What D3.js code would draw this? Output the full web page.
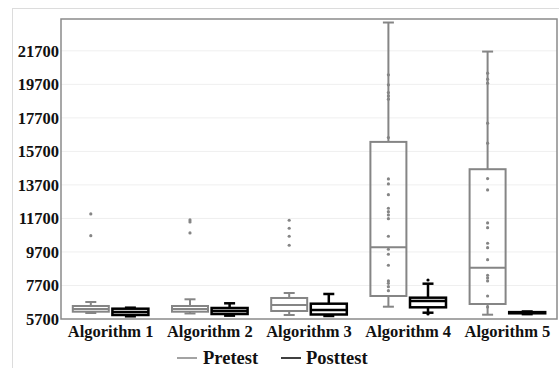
<!DOCTYPE html>
<html>
<head>
<meta charset="utf-8">
<script src="https://cdn.jsdelivr.net/npm/d3@7"></script>
<style>
  body { margin: 0; background: #fff; }
  svg { display: block; }
  text { font-family: "Liberation Serif", "Times New Roman", serif; font-weight: bold; fill: #111; }
</style>
</head>
<body>
<svg id="chart" width="559" height="368"></svg>
<script>
// categorie e gruppi
const categories = ["Algorithm 1", "Algorithm 2", "Algorithm 3", "Algorithm 4", "Algorithm 5"];
const groups = ["Pretest", "Posttest"];
const yTicks = [5700, 7700, 9700, 11700, 13700, 15700, 17700, 19700, 21700];

// statistiche Pretest: baffo basso, Q1, mediana, Q3, baffo alto
const preLow    = [6058, 6030, 5939, 6434, 5957];
const preQ1     = [6136, 6136, 6178, 7073, 6595];
const preMedian = [6297, 6300, 6536, 9980, 8763];
const preQ3     = [6476, 6476, 6954, 16267, 14637];
const preHigh   = [6715, 6876, 7252, 23390, 21657];

// statistiche Posttest
const postLow    = [5861, 5900, 5880, 6076, 5990];
const postQ1     = [5939, 5998, 5969, 6398, 6040];
const postMedian = [6118, 6178, 6237, 6775, 6080];
const postQ3     = [6315, 6357, 6613, 6972, 6110];
const postHigh   = [6375, 6637, 7193, 7807, 6150];

// punti singoli
const preDots = [
    [11969, 10673],
    [11610, 11491, 10834],
    [11592, 11115, 10637, 10100],
    [20267, 19670, 19210, 19013, 18816, 16524, 14058, 13760, 13121, 12309, 12106, 11909,
     11688, 10637, 9861, 9563, 8906, 7969, 7831, 7628, 7390],
    [20368, 20010, 19771, 17383, 16189, 14076, 13401, 11431, 11151, 10219, 9957, 9240,
     8309, 8148, 7969, 7073, 6416]
];
const postDots = [[], [], [], [8028, 5999], []];

const colors = { Pretest: "#858585", Posttest: "#000" };

const svg = d3.select("#chart");
const margin = { left: 61, right: 557, top: 19, bottom: 319 };

// cornice esterna chiara
svg.append("rect")
    .attr("x", 12.5).attr("y", 8.5)
    .attr("width", 600).attr("height", 400)
    .attr("fill", "none").attr("stroke", "#dcdcdc").attr("stroke-width", 1);

/* scale */
const x = d3.scaleBand().domain(categories).range([margin.left, margin.right]);
const xSub = d3.scaleBand().domain(groups).range([10, x.bandwidth() - 10]);
const y = d3.scaleLinear().domain([5700, 23600]).range([margin.bottom, margin.top]);

// griglia
svg.append("g")
    .selectAll("line")
    .data(yTicks.slice(1))
    .enter()
    .append("line")
    .attr("x1", margin.left).attr("x2", margin.right)
    .attr("y1", d => y(d)).attr("y2", d => y(d))
    .attr("stroke", "#efefef").attr("stroke-width", 1);

// asse Y
const yAxis = svg.append("g")
    .attr("transform", `translate(${margin.left - 2},0)`)
    .call(d3.axisLeft(y).tickValues(yTicks).tickSize(0).tickPadding(0).tickFormat(d3.format("d")));
yAxis.select(".domain").remove();
yAxis.selectAll("text").style("font-size", "16.5px").style("font-family", "Liberation Serif").style("font-weight", "bold").attr("fill", "#111");

// etichette categorie
svg.append("g")
    .selectAll("text")
    .data(categories)
    .enter()
    .append("text")
    .attr("x", d => x(d) + x.bandwidth() / 2)
    .attr("y", 337)
    .attr("text-anchor", "middle")
    .style("font-size", "16.5px")
    .text(d => d);

// costruisce i dati dei box
const boxes = [];
categories.forEach((c, i) => {
    boxes.push({ cat: c, grp: "Pretest", low: preLow[i], q1: preQ1[i], med: preMedian[i], q3: preQ3[i], high: preHigh[i], dots: preDots[i] });
    boxes.push({ cat: c, grp: "Posttest", low: postLow[i], q1: postQ1[i], med: postMedian[i], q3: postQ3[i], high: postHigh[i], dots: postDots[i] });
});

const boxW = 36, capW = 11;

const g = svg.append("g")
    .selectAll(".box")
    .data(boxes)
    .enter()
    .append("g")
    .attr("class", "box")
    .each(function (d) {
        const b = d3.select(this);
        const cx = x(d.cat) + xSub(d.grp) + xSub.bandwidth() / 2;
        const col = colors[d.grp];
        const sw = d.grp === "Pretest" ? 2 : 2.5;

        /* baffi */
        b.append("line")
            .attr("x1", cx).attr("x2", cx)
            .attr("y1", y(d.high)).attr("y2", y(d.q3))
            .attr("stroke", col).attr("stroke-width", sw);
        b.append("line")
            .attr("x1", cx).attr("x2", cx)
            .attr("y1", y(d.q1)).attr("y2", y(d.low))
            .attr("stroke", col).attr("stroke-width", sw);
        [d.high, d.low].forEach(v => {
            b.append("line")
                .attr("x1", cx - capW / 2).attr("x2", cx + capW / 2)
                .attr("y1", y(v)).attr("y2", y(v))
                .attr("stroke", col).attr("stroke-width", sw);
        });

        /* box */
        b.append("rect")
            .attr("x", cx - boxW / 2)
            .attr("y", y(d.q3))
            .attr("width", boxW)
            .attr("height", Math.max(0.5, y(d.q1) - y(d.q3)))
            .attr("fill", "none")
            .attr("stroke", col).attr("stroke-width", sw);

        /* mediana */
        b.append("line")
            .attr("x1", cx - boxW / 2).attr("x2", cx + boxW / 2)
            .attr("y1", y(d.med)).attr("y2", y(d.med))
            .attr("stroke", col).attr("stroke-width", sw);

        /* punti */
        b.selectAll("circle")
            .data(d.dots)
            .enter()
            .append("circle")
            .attr("cx", cx)
            .attr("cy", v => y(v))
            .attr("r", 1.6)
            .attr("fill", col);
    });

// bordo area grafico
svg.append("rect")
    .attr("x", margin.left).attr("y", margin.top)
    .attr("width", margin.right - margin.left)
    .attr("height", margin.bottom - margin.top)
    .attr("fill", "none").attr("stroke", "#8a8a8a").attr("stroke-width", 1.5);

// legenda
const legend = svg.append("g");
const legendItems = [
    { name: "Pretest", x1: 177, x2: 197, tx: 203 },
    { name: "Posttest", x1: 281, x2: 301, tx: 306 }
];
legendItems.forEach(it => {
    legend.append("line")
        .attr("x1", it.x1).attr("x2", it.x2)
        .attr("y1", 358).attr("y2", 358)
        .attr("stroke", colors[it.name]).attr("stroke-width", 1.5);
    legend.append("text")
        .attr("x", it.tx).attr("y", 364)
        .style("font-size", "18.5px")
        .text(it.name);
});
</script>
</body>
</html>
